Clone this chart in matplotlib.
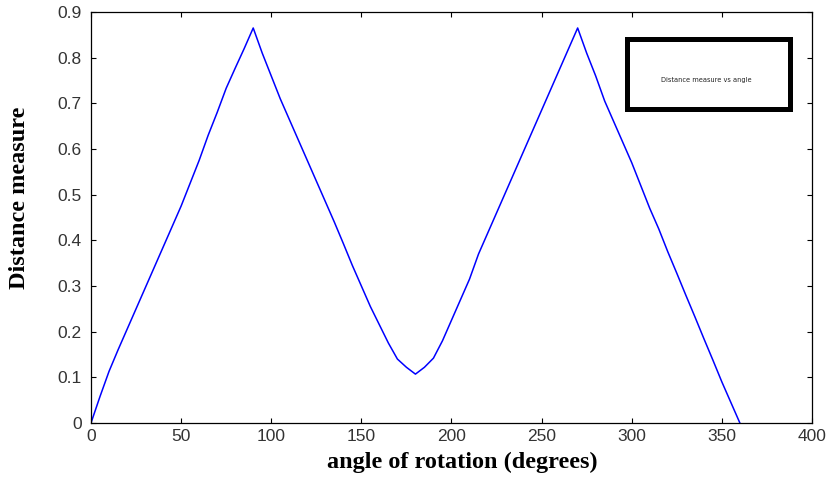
import numpy as np
import matplotlib
matplotlib.use("Agg")
import matplotlib.pyplot as plt
from matplotlib.patches import Rectangle

# angle of rotation (degrees), every 5 degrees
angle = list(range(0, 365, 5))

# distance measure values
distance = [
    0.0, 0.058, 0.113, 0.16, 0.205, 0.25, 0.295, 0.34, 0.385, 0.43,
    0.475, 0.525, 0.575, 0.63, 0.68, 0.733, 0.777, 0.82, 0.865,
    0.81, 0.76, 0.71, 0.665, 0.62, 0.575, 0.53, 0.485, 0.44, 0.393,
    0.345, 0.30, 0.255, 0.215, 0.175, 0.14, 0.122, 0.107,
    0.122, 0.142, 0.18, 0.225, 0.27, 0.315, 0.37, 0.415, 0.46, 0.505,
    0.55, 0.595, 0.64, 0.685, 0.73, 0.775, 0.82, 0.865,
    0.81, 0.76, 0.705, 0.66, 0.615, 0.57, 0.52, 0.47, 0.425, 0.375,
    0.328, 0.28, 0.233, 0.185, 0.138, 0.09, 0.045, 0.0,
]

xticks = [0, 50, 100, 150, 200, 250, 300, 350, 400]
yticks = [0, 0.1, 0.2, 0.3, 0.4, 0.5, 0.6, 0.7, 0.8, 0.9]
legend_text = "Distance measure vs angle"

fig = plt.figure(figsize=(8.31, 4.78), dpi=100)
ax = fig.add_axes([0.1095, 0.1151, 0.8676, 0.8598])

ax.plot(angle, distance, color=(0, 0, 1), lw=1.1)

ax.set_xlim(0, 400)
ax.set_ylim(0, 0.9)
ax.set_xticks(xticks)
ax.set_yticks(yticks)
ax.set_xticklabels([str(t) for t in xticks])
ax.set_yticklabels(["0"] + [f"{t:.1f}" for t in yticks[1:]])

ax.tick_params(direction="in", length=3.5, width=0.8, top=True, right=True,
               labelsize=12.5, colors="black")
ax.tick_params(axis="x", pad=4.5)
ax.tick_params(axis="y", pad=6.5)
for lab in ax.get_xticklabels() + ax.get_yticklabels():
    lab.set_family("Liberation Sans")
    lab.set_color("#333333")
for sp in ax.spines.values():
    sp.set_linewidth(0.9)

ax.set_xlabel("angle of rotation (degrees)", family="Liberation Serif",
              fontweight="bold", fontsize=17.5)
ax.set_ylabel("Distance measure", family="Liberation Serif",
              fontweight="bold", fontsize=17.5)
ax.xaxis.set_label_coords(0.5146, -0.069)
ax.yaxis.set_label_coords(-0.084, 0.549)

# legend box (thick frame with tiny text)
ax.add_patch(Rectangle((0.743, 0.765), 0.2265, 0.169, transform=ax.transAxes,
                       fill=False, lw=3.6, ec="black", zorder=5))
ax.text(0.854, 0.835, legend_text, transform=ax.transAxes, fontsize=4.8,
        ha="center", va="center", color="#222222")

fig.savefig("out.png", dpi=100)
